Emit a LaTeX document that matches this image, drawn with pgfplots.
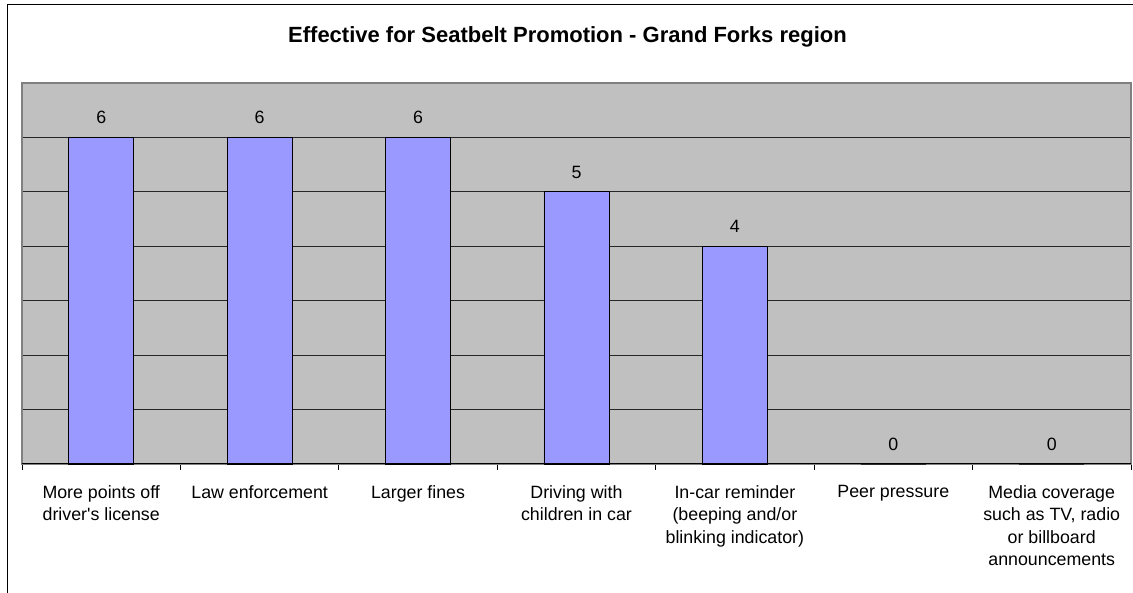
\documentclass[border=0pt]{standalone}
\usepackage{fontspec}
\setmainfont{Liberation Sans}
\usepackage{pgfplots}
\pgfplotsset{compat=1.18}
\definecolor{plotgray}{HTML}{C0C0C0}
\definecolor{bordergray}{HTML}{808080}
\definecolor{barblue}{HTML}{9999FF}

\begin{document}
\begin{tikzpicture}[x=1pt,y=1pt]
\useasboundingbox (0,0) rectangle (1133,593);
\clip (0,0) rectangle (1133,593);
% outer chart frame (cut off at right and bottom)
\draw[line width=1.5pt] (7.3,-10) -- (7.3,588.3) -- (1145,588.3);
\node[anchor=base, font=\fontsize{22}{26}\selectfont\bfseries] at (567.5,550)
  {Effective for Seatbelt Promotion - Grand Forks region};
\begin{axis}[
  at={(22pt,129pt)}, anchor=south west,
  scale only axis, width=1109pt, height=381pt,
  xmin=-0.5, xmax=6.5, ymin=0, ymax=7,
  axis background/.style={fill=plotgray},
  axis line style={bordergray, line width=1.2pt},
  ytick={1,...,6}, yticklabels={}, ytick style={draw=none},
  ymajorgrids, grid style={black!85, line width=0.9pt},
  xtick={0,...,6},
  xticklabels={{More points off\\driver\textquotesingle s license},
    {Law enforcement},
    {Larger fines},
    {Driving with\\children in car},
    {In-car reminder\\(beeping and/or\\blinking indicator)},
    {Peer pressure},
    {Media coverage\\such as TV, radio\\or billboard\\announcements}},
  major x tick style={draw=none},
  minor xtick={-0.5,0.5,...,6.5},
  minor x tick style={black, line width=0.8pt},
  minor tick length=6pt,
  tick align=outside, xtick pos=bottom,
  xticklabel style={anchor=north, inner sep=0pt, align=center, yshift=-17pt,
    font=\fontsize{17.8}{22.5}\selectfont},
  nodes near coords,
  /pgf/number format/assume math mode=true,
  every node near coord/.append style={anchor=base, yshift=13.5pt,
    font=\fontsize{17.8}{21}\selectfont, black},
  clip=false,
]
\addplot[ybar, bar width=65pt, fill=barblue, draw=black, line width=0.9pt]
  coordinates {(0,6) (1,6) (2,6) (3,5) (4,4) (5,0) (6,0)};
\draw[black, line width=1pt] (axis cs:-0.5,0) -- (axis cs:6.5,0);
\end{axis}
\end{tikzpicture}
\end{document}
